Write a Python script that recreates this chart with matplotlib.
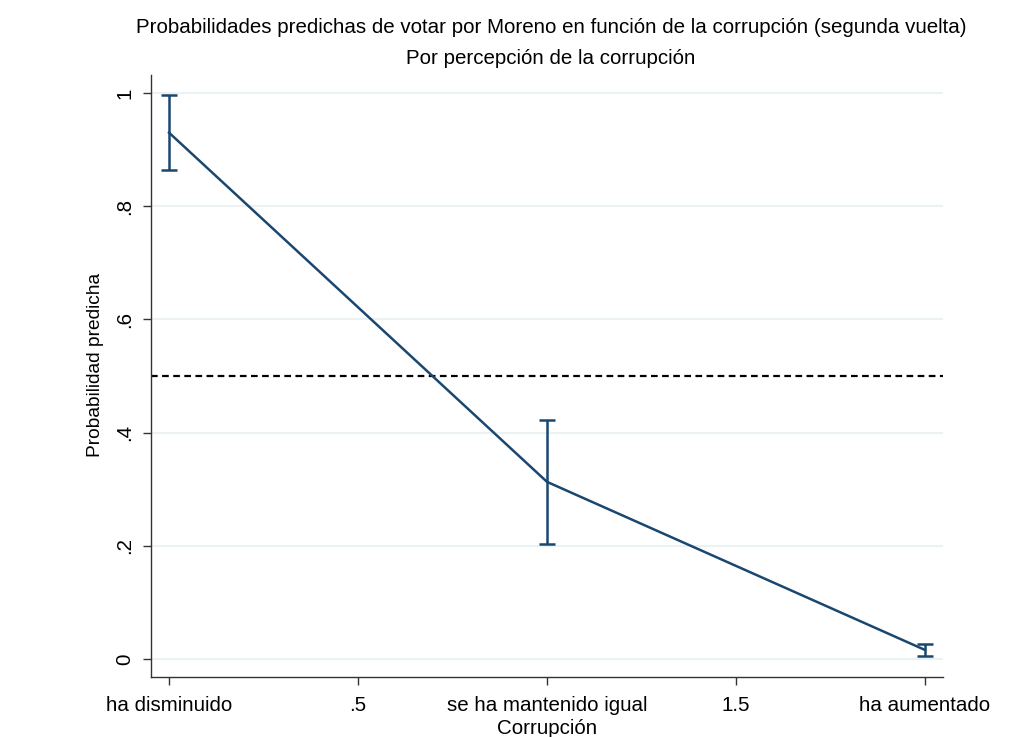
import matplotlib
matplotlib.use("Agg")
import matplotlib.pyplot as plt

plt.rcParams['font.family'] = ['Liberation Sans', 'DejaVu Sans']

x = [0, 1, 2]
prob = [0.930, 0.313, 0.016]
ci_low = [0.864, 0.203, 0.005]
ci_high = [0.997, 0.422, 0.027]
xticks = [0, 0.5, 1, 1.5, 2]
xticklabels = ['ha disminuido', '.5', 'se ha mantenido igual', '1.5', 'ha aumentado']
yticks = [0, 0.2, 0.4, 0.6, 0.8, 1]
yticklabels = ['0', '.2', '.4', '.6', '.8', '1']

navy = '#1a476f'

fig = plt.figure(figsize=(10.19, 7.37), dpi=100)
ax = fig.add_axes([0.1482, 0.0814, 0.7772, 0.8168])

for yt in yticks:
    ax.axhline(yt, color='#eaf2f3', linewidth=1.5, zorder=0)

ax.axhline(0.5, color='black', linestyle=(0, (3, 2)), linewidth=1.6, zorder=1)

yerr = [[p - l for p, l in zip(prob, ci_low)], [h - p for p, h in zip(prob, ci_high)]]
ax.errorbar(x, prob, yerr=yerr, color=navy, linewidth=1.8, elinewidth=1.8,
            capsize=6, capthick=1.8, zorder=3)

ax.set_xlim(-0.0476, 2.0476)
ax.set_ylim(-0.0318, 1.0318)
ax.set_xticks(xticks)
ax.set_xticklabels(xticklabels, fontsize=14.8)
ax.set_yticks(yticks)
ax.set_yticklabels(yticklabels, fontsize=14.8, rotation=90, va='center')
ax.tick_params(axis='both', length=6, width=1, color='#333333', pad=6)
ax.tick_params(axis='x', pad=8)

for side in ['top', 'right']:
    ax.spines[side].set_visible(False)
for side in ['left', 'bottom']:
    ax.spines[side].set_color('#333333')
    ax.spines[side].set_linewidth(1)

ax.set_ylabel('Probabilidad predicha', fontsize=13.8)
ax.yaxis.set_label_coords(-0.0593, 0.518)
ax.set_xlabel('Corrupción', fontsize=14.8, labelpad=2.5)

fig.text(0.5405, 0.963, 'Probabilidades predichas de votar por Moreno en función de la corrupción (segunda vuelta)',
         ha='center', va='center', fontsize=14.8)
fig.text(0.5405, 0.921, 'Por percepción de la corrupción', ha='center', va='center', fontsize=14.8)

fig.savefig('out.png', dpi=100)
